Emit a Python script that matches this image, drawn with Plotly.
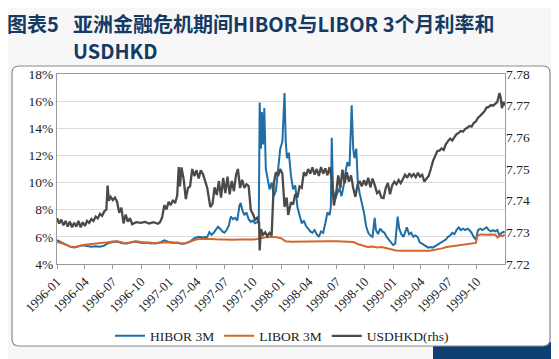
import plotly.graph_objects as go

# ---------------- data ----------------
hibor_dates = [
    "1996-01-01","1996-01-15","1996-01-29","1996-02-12","1996-02-26","1996-03-11","1996-03-25","1996-04-08",
    "1996-04-22","1996-05-06","1996-05-20","1996-06-03","1996-06-17","1996-07-01","1996-07-15","1996-07-29",
    "1996-08-12","1996-08-26","1996-09-09","1996-09-23","1996-10-07","1996-10-21","1996-11-04","1996-11-18",
    "1996-12-02","1996-12-16","1996-12-30",
    "1997-01-13","1997-01-27","1997-02-10","1997-02-24","1997-03-10","1997-03-24","1997-04-07","1997-04-21",
    "1997-05-05","1997-05-12","1997-05-19","1997-05-26","1997-06-02","1997-06-09","1997-06-16","1997-06-23",
    "1997-06-30","1997-07-07","1997-07-14","1997-07-21","1997-07-28","1997-08-04","1997-08-11","1997-08-18",
    "1997-08-22","1997-08-27","1997-09-03","1997-09-10","1997-09-17","1997-09-24","1997-10-01","1997-10-08",
    "1997-10-15","1997-10-20","1997-10-23","1997-10-27","1997-10-30","1997-11-03","1997-11-07","1997-11-12",
    "1997-11-17","1997-11-24","1997-12-01","1997-12-08","1997-12-15","1997-12-22","1997-12-29",
    "1998-01-05","1998-01-12","1998-01-16","1998-01-20","1998-01-26","1998-02-02","1998-02-09","1998-02-16",
    "1998-02-23","1998-03-02","1998-03-09","1998-03-16","1998-03-23","1998-03-30","1998-04-06","1998-04-13",
    "1998-04-20","1998-04-27","1998-05-04","1998-05-11","1998-05-18","1998-05-25","1998-06-01","1998-06-08",
    "1998-06-12","1998-06-15","1998-06-19","1998-06-26","1998-07-03","1998-07-10","1998-07-17","1998-07-24",
    "1998-07-31","1998-08-05","1998-08-12","1998-08-19","1998-08-24","1998-08-28","1998-09-03","1998-09-08",
    "1998-09-14","1998-09-21","1998-09-28","1998-10-05","1998-10-12","1998-10-19","1998-10-26","1998-11-02",
    "1998-11-06","1998-11-13","1998-11-20","1998-11-27","1998-12-04","1998-12-11","1998-12-18","1998-12-25",
    "1999-01-01","1999-01-08","1999-01-16","1999-01-21","1999-01-28","1999-02-04","1999-02-11","1999-02-15",
    "1999-02-22","1999-03-01","1999-03-08","1999-03-15","1999-03-22","1999-03-29","1999-04-05","1999-04-12",
    "1999-04-19","1999-04-26","1999-05-03","1999-05-10","1999-05-17","1999-05-24","1999-06-01","1999-06-08",
    "1999-06-15","1999-06-22","1999-06-29","1999-07-06","1999-07-13","1999-07-20","1999-07-27","1999-08-03",
    "1999-08-10","1999-08-17","1999-08-24","1999-08-31","1999-09-07","1999-09-14","1999-09-21","1999-09-28",
    "1999-10-05","1999-10-12","1999-10-19","1999-10-26","1999-11-02","1999-11-09","1999-11-16","1999-11-23",
    "1999-11-30","1999-12-07","1999-12-14","1999-12-21","1999-12-31",
]
hibor_values = [
    5.75,5.60,5.45,5.28,5.22,5.28,5.38,5.32,
    5.28,5.30,5.28,5.35,5.55,5.62,5.65,5.55,
    5.52,5.58,5.65,5.60,5.55,5.58,5.55,5.52,
    5.58,5.75,5.62,
    5.55,5.58,5.50,5.52,5.65,5.90,6.00,5.95,
    6.00,6.35,6.15,6.30,6.55,6.75,6.60,6.40,
    6.30,6.50,6.80,7.50,7.30,7.40,7.20,8.30,
    8.50,8.00,7.60,7.80,7.30,7.10,7.20,7.00,
    7.10,7.00,15.9,12.5,15.2,12.8,15.5,11.0,
    10.4,9.5,10.0,9.0,9.4,10.8,12.5,
    13.0,16.6,13.0,11.8,12.2,10.5,9.5,9.8,
    8.2,7.6,7.0,7.2,6.8,6.6,6.4,6.3,
    6.5,6.2,6.0,6.4,6.3,7.0,7.8,7.6,
    8.2,13.3,9.5,8.8,9.2,9.6,9.0,9.8,
    10.9,11.5,11.2,15.7,12.5,11.8,12.5,10.0,
    9.2,8.5,7.8,6.8,6.3,6.1,6.0,7.4,
    6.5,6.2,6.6,6.4,6.3,6.0,5.8,5.6,
    5.4,5.5,7.5,6.6,6.2,6.0,6.5,6.7,
    6.2,6.3,6.0,6.1,6.0,5.6,5.5,5.4,
    5.25,5.2,5.25,5.2,5.3,5.4,5.5,5.6,
    5.7,5.8,6.0,6.1,6.3,6.2,6.5,6.7,
    6.5,6.6,6.5,6.6,6.5,6.3,6.0,5.8,
    6.5,6.6,6.5,6.6,6.7,6.5,6.4,6.5,
    6.4,6.5,6.1,6.3,6.4,
]

libor_dates = [
    "1996-01-01","1996-01-15","1996-02-01","1996-02-15","1996-03-01","1996-03-15","1996-04-01","1996-04-15",
    "1996-05-01","1996-05-15","1996-06-01","1996-06-15","1996-07-01","1996-07-15","1996-08-01","1996-08-15",
    "1996-09-01","1996-09-15","1996-10-01","1996-10-15","1996-11-01","1996-11-15","1996-12-01","1996-12-15",
    "1997-01-01","1997-01-15","1997-02-01","1997-02-15","1997-03-01","1997-03-15","1997-04-01","1997-04-15",
    "1997-05-01","1997-05-15","1997-06-01","1997-06-15","1997-07-01","1997-07-15","1997-08-01","1997-08-15",
    "1997-09-01","1997-09-15","1997-10-01","1997-10-15","1997-11-01","1997-11-15","1997-12-01","1997-12-15",
    "1998-01-01","1998-01-15","1998-02-01","1998-02-15","1998-03-01","1998-04-01","1998-05-01","1998-06-01",
    "1998-07-01","1998-08-01","1998-08-25","1998-09-10","1998-09-25","1998-10-10","1998-10-25","1998-11-10",
    "1998-11-25","1998-12-10","1998-12-25","1999-01-10","1999-02-01","1999-03-01","1999-04-01","1999-05-01",
    "1999-05-20","1999-06-10","1999-06-25","1999-07-10","1999-07-25","1999-08-10","1999-08-25","1999-09-10",
    "1999-09-28","1999-10-03","1999-10-15","1999-11-01","1999-11-15","1999-12-01","1999-12-08","1999-12-15",
    "1999-12-24","1999-12-31",
]
libor_values = [
    5.62,5.55,5.40,5.28,5.25,5.35,5.42,5.45,
    5.48,5.50,5.52,5.60,5.65,5.68,5.58,5.52,
    5.60,5.68,5.62,5.55,5.52,5.55,5.58,5.62,
    5.60,5.58,5.52,5.50,5.58,5.70,5.82,5.85,
    5.86,5.84,5.82,5.80,5.80,5.78,5.78,5.80,
    5.79,5.78,5.80,5.84,5.92,5.98,6.00,5.98,
    5.90,5.68,5.64,5.65,5.66,5.68,5.67,5.68,
    5.67,5.66,5.62,5.45,5.35,5.25,5.28,5.22,
    5.25,5.15,5.05,5.00,4.98,5.00,4.98,4.98,
    5.05,5.15,5.25,5.30,5.35,5.42,5.48,5.52,
    5.55,6.10,6.18,6.15,6.18,6.15,5.95,6.10,
    6.05,6.18,
]

usdhkd_dates = [
    "1996-01-01","1996-01-08","1996-01-15","1996-01-22","1996-01-29","1996-02-05","1996-02-12","1996-02-19",
    "1996-02-26","1996-03-04","1996-03-11","1996-03-18","1996-03-25","1996-04-01","1996-04-08","1996-04-15",
    "1996-04-22","1996-04-29","1996-05-06","1996-05-13","1996-05-20","1996-05-27","1996-06-03","1996-06-10",
    "1996-06-14","1996-06-18","1996-06-24","1996-07-01","1996-07-08","1996-07-15","1996-07-22","1996-07-29",
    "1996-08-05","1996-08-12","1996-08-19","1996-08-26","1996-09-02","1996-09-16","1996-09-30","1996-10-14",
    "1996-10-28","1996-11-11","1996-11-25","1996-12-02","1996-12-09","1996-12-16","1996-12-23","1996-12-30",
    "1997-01-06","1997-01-13","1997-01-20","1997-01-27","1997-02-01","1997-02-05","1997-02-10","1997-02-17",
    "1997-02-24","1997-03-03","1997-03-10","1997-03-17","1997-03-24","1997-03-31","1997-04-07","1997-04-14",
    "1997-04-21","1997-04-28","1997-05-05","1997-05-15","1997-05-22","1997-05-29","1997-06-05","1997-06-12",
    "1997-06-19","1997-06-26","1997-07-03","1997-07-10","1997-07-17","1997-07-24","1997-07-31","1997-08-07",
    "1997-08-13","1997-08-20","1997-08-27","1997-09-03","1997-09-10","1997-09-17","1997-09-24","1997-10-01",
    "1997-10-08","1997-10-15","1997-10-21","1997-10-23","1997-10-27","1997-11-03","1997-11-10","1997-11-17",
    "1997-11-24","1997-12-01","1997-12-08","1997-12-15","1997-12-22","1997-12-29",
    "1998-01-05","1998-01-12","1998-01-19","1998-01-24","1998-02-02","1998-02-09","1998-02-16","1998-02-23",
    "1998-03-02","1998-03-09","1998-03-16","1998-03-23","1998-03-30","1998-04-06","1998-04-13","1998-04-20",
    "1998-04-27","1998-05-04","1998-05-11","1998-05-18","1998-05-25","1998-06-01","1998-06-08","1998-06-15",
    "1998-06-22","1998-06-29","1998-07-06","1998-07-13","1998-07-20","1998-07-27","1998-08-03","1998-08-10",
    "1998-08-17","1998-08-24","1998-08-31","1998-09-07","1998-09-14","1998-09-21","1998-09-28","1998-10-05",
    "1998-10-12","1998-10-19","1998-10-26","1998-11-02","1998-11-10","1998-11-17","1998-11-24","1998-12-01",
    "1998-12-08","1998-12-15","1998-12-22","1998-12-29",
    "1999-01-05","1999-01-12","1999-01-19","1999-01-26","1999-02-02","1999-02-09","1999-02-16","1999-02-23",
    "1999-03-02","1999-03-09","1999-03-16","1999-03-23","1999-03-30","1999-04-06","1999-04-13","1999-04-20",
    "1999-04-27","1999-05-04","1999-05-11","1999-05-18","1999-05-25","1999-06-01","1999-06-08","1999-06-15",
    "1999-06-22","1999-06-29","1999-07-06","1999-07-13","1999-07-20","1999-07-27","1999-08-03","1999-08-10",
    "1999-08-17","1999-08-24","1999-08-31","1999-09-07","1999-09-14","1999-09-21","1999-09-28","1999-10-05",
    "1999-10-12","1999-10-19","1999-10-26","1999-11-02","1999-11-09","1999-11-16","1999-11-23","1999-11-30",
    "1999-12-07","1999-12-14","1999-12-18","1999-12-22","1999-12-27","1999-12-31",
]
usdhkd_values = [
    7.7345,7.7328,7.7340,7.7322,7.7336,7.7318,7.7334,7.7316,
    7.7330,7.7318,7.7336,7.7316,7.7332,7.7320,7.7336,7.7330,
    7.7342,7.7336,7.7350,7.7344,7.7358,7.7352,7.7366,7.7372,
    7.7448,7.7400,7.7412,7.7402,7.7410,7.7396,7.7362,7.7378,
    7.7328,7.7356,7.7334,7.7345,7.7326,7.7332,7.7330,7.7333,
    7.7328,7.7332,7.7327,7.7332,7.7348,7.7386,7.7372,7.7396,
    7.7386,7.7402,7.7392,7.7416,7.7506,7.7445,7.7505,7.7468,
    7.7405,7.7440,7.7445,7.7500,7.7478,7.7496,7.7470,7.7496,
    7.7484,7.7462,7.7440,7.7380,7.7390,7.7442,7.7418,7.7462,
    7.7410,7.7472,7.7424,7.7476,7.7420,7.7462,7.7430,7.7482,
    7.7500,7.7440,7.7466,7.7440,7.7452,7.7446,7.7370,7.7358,
    7.7340,7.7346,7.7330,7.7243,7.7310,7.7292,7.7300,7.7288,
    7.7298,7.7290,7.7456,7.7490,7.7478,7.7500,
    7.7485,7.7380,7.7410,7.7355,7.7395,7.7388,7.7420,7.7410,
    7.7445,7.7440,7.7490,7.7478,7.7500,7.7485,7.7505,7.7482,
    7.7500,7.7478,7.7506,7.7485,7.7502,7.7480,7.7506,7.7470,
    7.7385,7.7420,7.7480,7.7440,7.7498,7.7455,7.7490,7.7460,
    7.7480,7.7440,7.7412,7.7450,7.7462,7.7445,7.7465,7.7448,
    7.7472,7.7442,7.7470,7.7450,7.7424,7.7430,7.7410,7.7408,
    7.7440,7.7456,7.7420,7.7448,
    7.7460,7.7452,7.7465,7.7455,7.7470,7.7482,7.7472,7.7486,
    7.7476,7.7484,7.7474,7.7488,7.7476,7.7482,7.7460,7.7470,
    7.7478,7.7500,7.7525,7.7540,7.7556,7.7558,7.7565,7.7560,
    7.7578,7.7588,7.7596,7.7590,7.7602,7.7610,7.7614,7.7620,
    7.7618,7.7626,7.7630,7.7636,7.7634,7.7645,7.7650,7.7662,
    7.7668,7.7676,7.7682,7.7694,7.7696,7.7702,7.7700,7.7706,
    7.7712,7.7740,7.7725,7.7692,7.7712,7.7700,
]

x_tick_labels = ["1996-01","1996-04","1996-07","1996-10","1997-01","1997-04","1997-07","1997-10",
                 "1998-01","1998-04","1998-07","1998-10","1999-01","1999-04","1999-07","1999-10"]
left_ticks = [4, 6, 8, 10, 12, 14, 16, 18]
right_ticks = [7.72, 7.73, 7.74, 7.75, 7.76, 7.77, 7.78]

series_names = ["HIBOR 3M", "LIBOR 3M", "USDHKD(rhs)"]
title_prefix = "图表5"
title_line1 = "亚洲金融危机期间HIBOR与LIBOR 3个月利率和"
title_line2 = "USDHKD"

# ---------------- layout helpers ----------------
# The page body has an 8px default margin, so the figure is drawn 8px in from the
# window's top-left corner. Positions below are given in window pixels.
OFF = 8
SCREEN_W, SCREEN_H = 559, 359
W, H = SCREEN_W - OFF, SCREEN_H - OFF
PLOT_X0, PLOT_X1, PLOT_Y0, PLOT_Y1 = 57, 505, 74, 264      # window pixels
L, R = PLOT_X0 - OFF, W - (PLOT_X1 - OFF)
T, B = PLOT_Y0 - OFF, H - (PLOT_Y1 - OFF)
PW, PH = W - L - R, H - T - B

def px(x):
    return (x - PLOT_X0) / PW

def py(y):
    return (PLOT_Y1 - y) / PH

def rounded_rect(x0, y0, x1, y1, r):
    rx, ry = r / PW, r / PH
    X0, X1, Y0, Y1 = px(x0), px(x1), py(y1), py(y0)
    return (f"M{X0+rx},{Y1} L{X1-rx},{Y1} Q{X1},{Y1} {X1},{Y1-ry} "
            f"L{X1},{Y0+ry} Q{X1},{Y0} {X1-rx},{Y0} L{X0+rx},{Y0} "
            f"Q{X0},{Y0} {X0},{Y0+ry} L{X0},{Y1-ry} Q{X0},{Y1} {X0+rx},{Y1} Z")

SERIF = "Liberation Serif, Times New Roman, serif"
CJK = "Noto Sans CJK SC, sans-serif"
NAVY = "#163a63"

fig = go.Figure()
fig.add_trace(go.Scatter(x=hibor_dates, y=hibor_values, name=series_names[0], mode="lines",
                         line=dict(color="#1f6fa6", width=2)))
fig.add_trace(go.Scatter(x=libor_dates, y=libor_values, name=series_names[1], mode="lines",
                         line=dict(color="#d5652c", width=2)))
fig.add_trace(go.Scatter(x=usdhkd_dates, y=usdhkd_values, name=series_names[2], mode="lines",
                         line=dict(color="#4a4a4a", width=2.3), yaxis="y2"))

fig.update_layout(
    width=W, height=H, autosize=False,
    margin=dict(l=L, r=R, t=T, b=B, pad=0, autoexpand=False),
    paper_bgcolor="#f7f7f8",
    plot_bgcolor="rgba(0,0,0,0)",
    font=dict(family=SERIF, size=13, color="#222222"),
    showlegend=True,
    legend=dict(orientation="h", x=px(282), xanchor="center", y=py(336), yanchor="middle",
                font=dict(family=SERIF, size=13.5, color="#222222"),
                bgcolor="rgba(0,0,0,0)", itemwidth=30, traceorder="normal"),
    xaxis=dict(type="date", range=["1996-01-01", "2000-01-01"], automargin=False,
               tickvals=[t + "-01" for t in x_tick_labels], ticktext=x_tick_labels,
               tickangle=-45, tickfont=dict(family=SERIF, size=13, color="#222222"),
               ticks="outside", ticklen=4, tickcolor="#9a9a9a",
               showgrid=False, showline=True, linecolor="#9a9a9a", linewidth=1, mirror=True,
               zeroline=False),
    yaxis=dict(range=[4, 18], tickvals=left_ticks, ticktext=[f"{v}%" for v in left_ticks], automargin=False,
               tickfont=dict(family=SERIF, size=13.5, color="#222222"),
               showgrid=True, gridcolor="#dcdcdc", gridwidth=1,
               showline=True, linecolor="#9a9a9a", mirror=True, zeroline=False, ticks=""),
    yaxis2=dict(range=[7.72, 7.78], tickvals=right_ticks, ticktext=[f"{v:.2f}" for v in right_ticks],
                overlaying="y", side="right", showgrid=False, zeroline=False, automargin=False,
                tickfont=dict(family=SERIF, size=13.5, color="#222222"), ticks=""),
    shapes=[
        dict(type="rect", xref="paper", yref="paper", x0=px(433), x1=px(SCREEN_W + 2),
             y0=py(SCREEN_H + 2), y1=py(342),
             fillcolor="#0e3f73", line=dict(width=0), layer="below"),
        dict(type="path", xref="paper", yref="paper", path=rounded_rect(12, 66, 550, 346, 7),
             fillcolor="#ffffff", line=dict(color="#8c8c8c", width=1.2), layer="below"),
    ],
    annotations=[
        dict(text=title_prefix, xref="paper", yref="paper", x=px(5), y=py(23), xanchor="left", yanchor="middle",
             showarrow=False, font=dict(family=CJK, size=20, color=NAVY, weight="bold")),
        dict(text=title_line1, xref="paper", yref="paper", x=px(71), y=py(23), xanchor="left", yanchor="middle",
             showarrow=False, font=dict(family=CJK, size=20, color=NAVY, weight="bold")),
        dict(text=title_line2, xref="paper", yref="paper", x=px(71), y=py(50), xanchor="left", yanchor="middle",
             showarrow=False, font=dict(family=CJK, size=20, color=NAVY, weight="bold")),
    ],
)

fig.write_html("out.html")
